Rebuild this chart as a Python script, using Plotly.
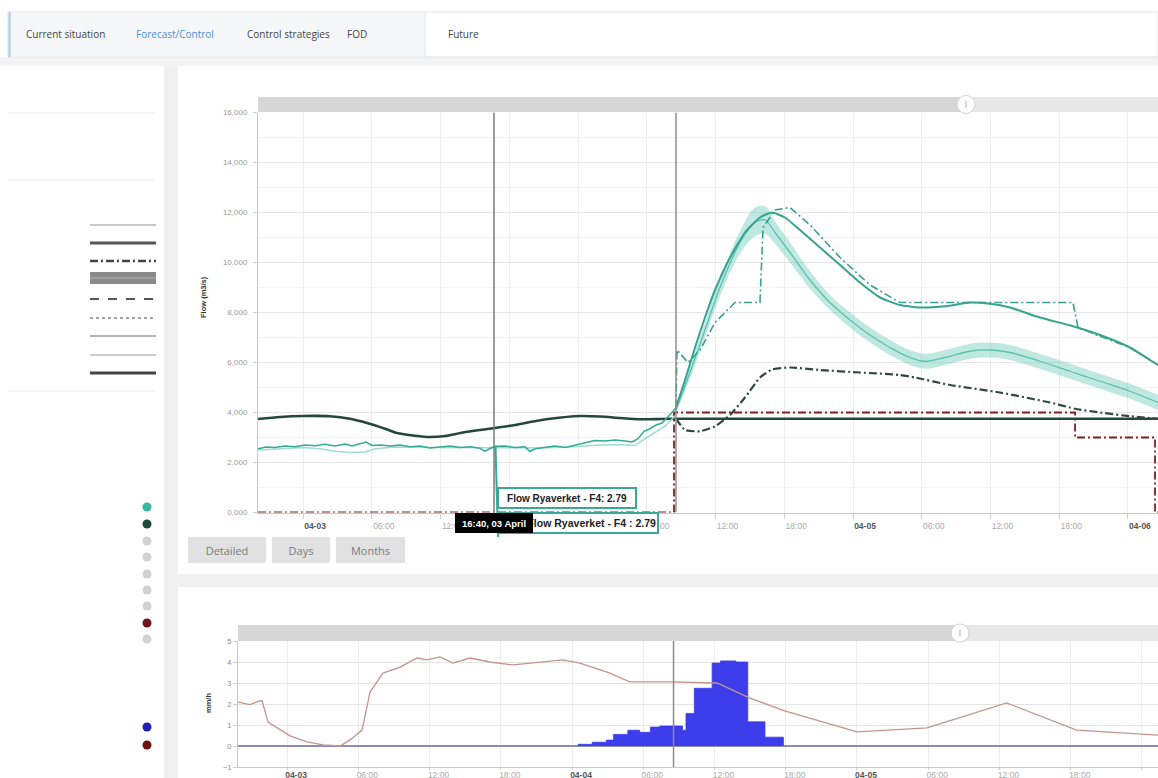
import plotly.graph_objects as go
import pandas as pd

W, H = 1158, 778
T0 = pd.Timestamp("2023-04-03 00:00")

# ---------------- data (hours since 03 April 00:00) ----------------
obs_h = [-3.93, -3.23, -2.44, -1.57, -0.70, 0.17, 1.05, 1.92, 2.79, 3.67, 4.28, 4.97, 5.50, 6.02, 6.72,
         7.59, 8.47, 9.34, 10.21, 11.08, 11.96, 12.83, 13.70, 14.57, 15.45, 15.88, 16.32, 16.76, 17.63, 18.50,
         19.37, 19.81, 20.25, 21.12, 21.99, 22.87, 23.74, 24.61, 25.48, 26.36, 27.23, 28.10, 28.71, 29.24, 29.76,
         30.28, 30.81, 31.33, 31.85, 32.20, 32.55]
obs_flow = [2.55, 2.62, 2.6, 2.66, 2.63, 2.7, 2.67, 2.73, 2.66, 2.74, 2.66, 2.76, 2.82, 2.68, 2.7,
            2.66, 2.7, 2.63, 2.66, 2.58, 2.63, 2.66, 2.6, 2.63, 2.57, 2.45, 2.56, 2.65, 2.66, 2.6,
            2.63, 2.44, 2.55, 2.62, 2.66, 2.6, 2.7, 2.8, 2.88, 2.86, 2.9, 2.86, 2.82, 2.95, 3.25,
            3.35, 3.5, 3.58, 3.82, 4.0, 4.2]

light_h = [-3.93, -2.01, 0, 1.48, 2.79, 4.10, 5.41, 6.28, 8.03, 11.08, 14.57, 17.19, 20.68, 23.30, 25.92,
           27.67, 28.97, 29.85, 30.72, 31.59, 32.55]
light_flow = [2.5, 2.55, 2.6, 2.55, 2.45, 2.4, 2.42, 2.55, 2.62, 2.6, 2.6, 2.6, 2.58, 2.62, 2.7,
              2.72, 2.68, 2.95, 3.2, 3.45, 3.9]

base_h = [-3.93, -2.01, 0, 2.36, 4.10, 5.59, 7.16, 8.20, 9.77, 11.08, 12.39, 13.96, 15.45, 16.76, 18.50,
          19.81, 21.56, 24.17, 25.92, 27.67, 29.41, 31.16, 32.55, 74.62]
base_flow = [3.74, 3.82, 3.86, 3.85, 3.75, 3.58, 3.35, 3.18, 3.07, 3.02, 3.06, 3.2, 3.3, 3.38, 3.5,
             3.62, 3.75, 3.86, 3.84, 3.78, 3.73, 3.74, 3.75, 3.75]

fc_h = [32.55, 33.34, 34.21, 35.08, 35.96, 37.27, 38.57, 39.88, 40.93, 42.06, 43.37, 45.12, 46.87, 48.61,
        50.36, 52.10, 53.85, 56.03, 58.21, 59.96, 61.70, 64.32, 67.20, 69.56, 72.17, 73.92, 74.62]
fc_flow = [4.2, 5.3, 6.6, 7.8, 8.9, 10.2, 11.2, 11.8, 12.0, 11.8, 11.3, 10.6, 9.9, 9.2,
           8.6, 8.3, 8.2, 8.25, 8.4, 8.35, 8.2, 7.8, 7.45, 7.1, 6.6, 6.1, 5.9]

ens_h = [32.55, 33.77, 35.08, 36.39, 38.14, 39.45, 40.32, 41.19, 42.50, 44.25, 45.99, 47.74, 49.48, 51.23,
         52.97, 54.28, 56.03, 58.21, 59.96, 61.70, 64.32, 66.94, 69.56, 72.17, 74.62]
ens_mean = [4.1, 5.6, 7.3, 9.0, 10.8, 11.6, 11.7, 11.2, 10.4, 9.3, 8.4, 7.7, 7.1, 6.6,
            6.2, 6.05, 6.2, 6.45, 6.5, 6.4, 6.05, 5.65, 5.25, 4.85, 4.4]
ens_low = [4.0, 5.35, 7.0, 8.65, 10.35, 11.05, 11.15, 10.75, 10.0, 8.95, 8.1, 7.4, 6.8, 6.3,
           5.9, 5.75, 5.9, 6.15, 6.2, 6.1, 5.75, 5.35, 4.95, 4.55, 4.1]
ens_high = [4.2, 5.85, 7.6, 9.35, 11.25, 12.2, 12.25, 11.65, 10.8, 9.65, 8.7, 8.0, 7.4, 6.9,
            6.5, 6.35, 6.5, 6.75, 6.8, 6.7, 6.35, 5.95, 5.55, 5.15, 4.7]

ctrl_h = [32.55, 32.64, 33.60, 34.65, 35.96, 37.70, 39.88, 40.15, 41.19, 42.50, 44.25, 46.87, 49.48, 52.10,
          67.20, 67.64, 69.56, 72.17, 74.62]
ctrl_flow = [4.2, 6.5, 6.0, 6.5, 7.6, 8.4, 8.4, 11.4, 12.1, 12.2, 11.5, 10.2, 9.1, 8.4,
             8.4, 7.4, 7.05, 6.6, 5.9]

alt_h = [32.55, 33.34, 34.65, 35.96, 37.27, 38.57, 39.88, 40.93, 42.50, 45.12, 48.61, 52.10, 53.41, 56.47,
         60.83, 65.19, 67.38, 69.56, 72.17, 74.62]
alt_flow = [3.75, 3.3, 3.25, 3.45, 3.9, 4.6, 5.4, 5.72, 5.8, 5.7, 5.6, 5.5, 5.4, 5.1,
            4.8, 4.4, 4.15, 4.0, 3.85, 3.75]

lim_h = [-3.93, 32.38, 67.38, 74.36, 74.62]
lim_flow = [0, 4.0, 3.0, 0, 0]

rain_h = [24.5, 25.7, 26.9, 27.5, 28.7, 29.7, 30.6, 31.4, 33.3, 33.6, 34.3, 35.8, 36.5, 37.8, 38.8, 40.25, 41.8]
rain_mm = [0.08, 0.18, 0.28, 0.55, 0.75, 0.65, 0.9, 0.95, 0.75, 1.55, 2.75, 3.95, 4.05, 4.0, 1.15, 0.42, 0.0]

rose_h = [-4.13, -3.12, -2.44, -2.1, -1.6, -0.59, 0.25, 1.68, 3.03, 4.46, 5.31, 6.32, 6.99, 8.08, 9.52,
          10.95, 11.79, 12.88, 13.98, 15.41, 17.09, 19.03, 21.31, 23.24, 24.67, 26.95, 28.88, 30.32, 32.5,
          36.21, 38.99, 41.77, 44.63, 48.0, 53.9, 60.6, 66.5, 73.35]
rose_val = [2.09, 1.97, 2.12, 2.15, 1.14, 0.76, 0.48, 0.2, 0.05, 0.0, 0.29, 0.76, 2.57, 3.47, 3.76,
            4.19, 4.1, 4.24, 3.95, 4.19, 4.0, 3.86, 4.0, 4.1, 3.95, 3.52, 3.05, 3.05, 3.05,
            3.0, 2.28, 1.7, 1.24, 0.67, 0.86, 2.05, 0.76, 0.52]

tick_hours = [0, 6, 12, 18, 24, 30, 36, 42, 48, 54, 60, 66, 72]
tick_names = ["04-03", "06:00", "12:00", "18:00", "04-04", "06:00", "12:00", "18:00",
              "04-05", "06:00", "12:00", "18:00", "04-06"]
flow_ticks = [0, 2, 4, 6, 8, 10, 12, 14, 16]
flow_tick_text = ["0,000", "2,000", "4,000", "6,000", "8,000", "10,000", "12,000", "14,000", "16,000"]
rain_ticks = [-1, 0, 1, 2, 3, 4, 5]

crosshair_h = 16.67
now_h = 32.55
tabs = ["Current situation", "Forecast/Control", "Control strategies", "FOD", "Future"]
buttons = ["Detailed", "Days", "Months"]
tooltip_time = "16:40, 03 April"
tooltip_series = "Flow Ryaverket - F4"
tooltip_value = "2.79"


def T(hours):
    return [T0 + pd.Timedelta(hours=h) for h in hours]


def px(x):
    return x / W


def py(y):
    return 1 - y / H


FONT = "Liberation Sans, Arial, sans-serif"
UIFONT = "Open Sans, sans-serif"
DD = "8px,3px,2px,3px"

fig = go.Figure()

# ---------------- main chart ----------------
fig.add_trace(go.Scatter(x=T(lim_h), y=lim_flow, mode="lines", line=dict(color="#7d2026", width=1.8, dash=DD, shape="hv"),
                         xaxis="x", yaxis="y"))
fig.add_trace(go.Scatter(x=T(base_h), y=base_flow, mode="lines", line=dict(color="#25483c", width=2.6, shape="spline", smoothing=0.6),
                         xaxis="x", yaxis="y"))
fig.add_trace(go.Scatter(x=T(ens_h), y=ens_low, mode="lines", line=dict(width=0, shape="spline"), xaxis="x", yaxis="y"))
fig.add_trace(go.Scatter(x=T(ens_h), y=ens_high, mode="lines", line=dict(width=0, shape="spline"), fill="tonexty",
                         fillcolor="rgba(110,205,186,0.45)", xaxis="x", yaxis="y"))
fig.add_trace(go.Scatter(x=T(ens_h), y=ens_mean, mode="lines", line=dict(color="#5ec0ad", width=1.3, shape="spline"),
                         xaxis="x", yaxis="y"))
fig.add_trace(go.Scatter(x=T(light_h), y=light_flow, mode="lines", line=dict(color="#9fdccf", width=1.5),
                         xaxis="x", yaxis="y"))
fig.add_trace(go.Scatter(x=T(obs_h), y=obs_flow, mode="lines", line=dict(color="#34ab97", width=1.5),
                         xaxis="x", yaxis="y"))
fig.add_trace(go.Scatter(x=T(fc_h), y=fc_flow, mode="lines", line=dict(color="#35a392", width=2, shape="spline", smoothing=0.5),
                         xaxis="x", yaxis="y"))
fig.add_trace(go.Scatter(x=T(ctrl_h), y=ctrl_flow, mode="lines", line=dict(color="#3a9f8e", width=1.6, dash=DD),
                         xaxis="x", yaxis="y"))
fig.add_trace(go.Scatter(x=T(alt_h), y=alt_flow, mode="lines", line=dict(color="#33473f", width=2.2, dash=DD, shape="spline", smoothing=0.5),
                         xaxis="x", yaxis="y"))

# ---------------- bottom chart ----------------
fig.add_trace(go.Scatter(x=T(rain_h), y=rain_mm, mode="lines", line=dict(color="#3b3bea", width=0.8, shape="hv"),
                         fill="tozeroy", fillcolor="#3d3dec", xaxis="x2", yaxis="y2"))
fig.add_trace(go.Scatter(x=T(rose_h), y=rose_val, mode="lines", line=dict(color="#c4948d", width=1.3),
                         xaxis="x2", yaxis="y2"))


def tick_text(names):
    out = []
    for n in names:
        if ":" in n:
            out.append(n)
        else:
            out.append("<b><span style='color:#555'>%s</span></b>" % n)
    return out


xcommon = dict(type="date", tickmode="array", tickvals=T(tick_hours), ticktext=tick_text(tick_names),
               tickfont=dict(size=8.5, color="#aaaaaa", family=FONT), ticks="outside",
               tickcolor="#cfcfcf", showline=True, linecolor="#c8c8c8", linewidth=1, showgrid=True,
               gridcolor="#ececec", zeroline=False, automargin=False, fixedrange=True)

fig.update_layout(
    width=W, height=H, template="none", margin=dict(l=0, r=0, t=0, b=0),
    paper_bgcolor="white", plot_bgcolor="white", showlegend=False,
    font=dict(family=FONT, size=9, color="#555"),
    xaxis=dict(domain=[px(258), 1], range=T([-3.93, 74.62]), anchor="y", ticklabelshift=12, ticklen=5, **xcommon),
    yaxis=dict(domain=[py(512.5), py(112.5)], range=[0, 16], anchor="x", tickmode="array",
               tickvals=flow_ticks, ticktext=flow_tick_text, tickfont=dict(size=8, color="#9a9a9a", family=FONT),
               ticks="outside", ticklen=4, tickcolor="#cfcfcf", showline=True, linecolor="#c8c8c8",
               showgrid=True, gridcolor="#e6e6e6", zeroline=False, automargin=False, fixedrange=True,
               ticklabelstandoff=4,
               minor=dict(tickmode="linear", tick0=0, dtick=1, showgrid=True, gridcolor="#f3f3f3", ticks="")),
    xaxis2=dict(domain=[px(238), 1], range=T([-4.13, 73.35]), anchor="y2", ticklabelshift=9, ticklen=2,
                ticklabelstandoff=-2, **xcommon),
    yaxis2=dict(domain=[py(767), py(641)], range=[-1, 5], anchor="x2", tickmode="array", tickvals=rain_ticks,
                tickfont=dict(size=7.5, color="#8a8a8a", family=FONT), ticks="outside", ticklen=4,
                tickcolor="#cfcfcf", showline=True, linecolor="#c8c8c8", showgrid=True, gridcolor="#e4e4e4",
                zeroline=True, zerolinecolor="#8c8cb8", zerolinewidth=2, automargin=False, fixedrange=True),
)

shapes = []


def rect(x0, y0, x1, y1, fill, line=None, lw=0, layer="above"):
    shapes.append(dict(type="rect", xref="paper", yref="paper", x0=px(x0), x1=px(x1), y0=py(y1), y1=py(y0),
                       fillcolor=fill, line=dict(width=lw, color=line or fill), layer=layer))


def hline(x0, x1, y, color, width, dash="solid"):
    shapes.append(dict(type="line", xref="paper", yref="paper", x0=px(x0), x1=px(x1), y0=py(y), y1=py(y),
                       line=dict(color=color, width=width, dash=dash)))


def vline(x, y0, y1, color, width):
    shapes.append(dict(type="line", xref="paper", yref="paper", x0=px(x), x1=px(x), y0=py(y0), y1=py(y1),
                       line=dict(color=color, width=width)))


def dot(x, y, r, color, line=None):
    shapes.append(dict(type="circle", xref="paper", yref="paper", x0=px(x - r), x1=px(x + r),
                       y0=py(y + r), y1=py(y - r), fillcolor=color, line=dict(width=1 if line else 0, color=line or color)))


# page background strips
rect(164, 58, 178, 778, "#f0f0f0")
rect(164, 574, 1158, 587, "#f0f0f0")
rect(0, 57, 1158, 66, "#f3f3f3")

# navigation bar
rect(8, 12, 1158, 57, "white", "#e2e2e2", 1)
rect(9, 13, 425, 56, "#f6f7f9")
vline(9.5, 12, 57, "#a9cbe6", 2)
vline(425, 12, 57, "#e2e2e2", 1)

# sidebar
for yy in (113, 180, 391):
    hline(8, 155, yy, "#ececec", 1.2)
hline(90, 156, 225, "#c8c8c8", 2)
hline(90, 156, 243, "#555555", 3)
hline(90, 156, 261, "#444444", 2.5, DD)
rect(90, 272, 156, 284, "#8a8a8a")
hline(90, 156, 278, "#b4b4b4", 1)
hline(90, 156, 299, "#555555", 2, "dash")
hline(90, 156, 318, "#888888", 1.5, "dot")
hline(90, 156, 336, "#9a9a9a", 1.5)
hline(90, 156, 355, "#cccccc", 2)
hline(90, 156, 373, "#444444", 3)
dot_cols = [(507, "#3bb6a2"), (524, "#1f4a3a"), (541, "#d2d2d2"), (557, "#d2d2d2"), (574, "#d2d2d2"),
            (590, "#d2d2d2"), (606, "#d2d2d2"), (623, "#6e1418"), (639, "#d2d2d2"), (727, "#1e1eb4"),
            (745, "#6a1410")]
for yy, c in dot_cols:
    dot(147, yy, 4.5, c)

# navigator bars
rect(258, 97, 966, 112, "#d7d7d7")
rect(966, 97, 1158, 112, "#e7e7e7")
dot(966, 104.5, 9, "white", "#d2d2d2")
vline(966, 101, 108, "#b0b0b0", 1)
rect(238, 625, 960, 641, "#d7d7d7")
rect(960, 625, 1158, 641, "#e7e7e7")
dot(960, 633, 9, "white", "#d2d2d2")
vline(960, 629.5, 636.5, "#b0b0b0", 1)

# crosshair and "now" lines
shapes.append(dict(type="line", xref="x", yref="y", x0=T([crosshair_h])[0], x1=T([crosshair_h])[0], y0=0, y1=16,
                   line=dict(color="#7a7a7a", width=1.5)))
shapes.append(dict(type="line", xref="x", yref="y", x0=T([now_h])[0], x1=T([now_h])[0], y0=0, y1=16,
                   line=dict(color="#8f8f8f", width=1.5)))
shapes.append(dict(type="line", xref="x2", yref="y2", x0=T([now_h])[0], x1=T([now_h])[0], y0=-1, y1=5,
                   line=dict(color="#8a8a8a", width=1.5)))
# tooltip connector
shapes.append(dict(type="line", xref="paper", yref="paper", x0=px(495.5), x1=px(498), y0=py(446), y1=py(537),
                   line=dict(color="#3aa896", width=2)))

fig.update_layout(shapes=shapes)

ann = []
# tabs
tab_x = [65, 175, 288, 357, 463]
for name, xx in zip(tabs, tab_x):
    ann.append(dict(text=name, x=px(xx), y=py(34.5), xref="paper", yref="paper", showarrow=False,
                    xanchor="center", yanchor="middle",
                    font=dict(size=10, color="#4a8fd8" if name == "Forecast/Control" else "#444", family=UIFONT)))
# axis titles
ann.append(dict(text="<b>Flow (m3/s)</b>", x=px(204), y=py(297), xref="paper", yref="paper", showarrow=False,
                xanchor="center", yanchor="middle", textangle=-90, font=dict(size=7.5, color="#333", family=FONT)))
ann.append(dict(text="<b>mm/h</b>", x=px(208), y=py(703), xref="paper", yref="paper", showarrow=False,
                xanchor="center", yanchor="middle", textangle=-90, font=dict(size=7.5, color="#333", family=FONT)))
# buttons
for name, (x0, x1) in zip(buttons, [(188, 266), (272, 330), (336, 405)]):
    ann.append(dict(text=name, x=px(x0), y=py(537), xref="paper", yref="paper", xanchor="left", yanchor="top",
                    showarrow=False, width=x1 - x0, height=26, borderpad=0, borderwidth=0, bgcolor="#e1e1e1",
                    font=dict(size=11, color="#7b7b7b", family=UIFONT)))
# tooltip boxes
ann.append(dict(text="<b>%s: %s</b>" % (tooltip_series, tooltip_value), x=px(497), y=py(487), xref="paper",
                yref="paper", xanchor="left", yanchor="top", showarrow=False, width=132, height=14, borderpad=2,
                borderwidth=2, bordercolor="#3aa896", bgcolor="white", font=dict(size=10, color="#222", family=FONT)))
ann.append(dict(text="<b>%s : %s</b>" % (tooltip_series, tooltip_value), x=px(497), y=py(512), xref="paper",
                yref="paper", xanchor="left", yanchor="top", showarrow=False, width=156, height=16, borderpad=1,
                borderwidth=2, bordercolor="#3aa896", bgcolor="white", align="right",
                font=dict(size=10.5, color="#222", family=FONT)))
ann.append(dict(text="<b>%s</b>" % tooltip_time, x=px(455), y=py(512.5), xref="paper", yref="paper",
                xanchor="left", yanchor="top", showarrow=False, width=74, height=16, borderpad=2, borderwidth=0,
                bgcolor="black", font=dict(size=9.5, color="white", family=FONT)))
fig.update_layout(annotations=ann)

fig.write_html("out.html", config={"displayModeBar": False, "staticPlot": True},
               post_script="document.body.style.margin='0';document.body.style.overflow='hidden';")
